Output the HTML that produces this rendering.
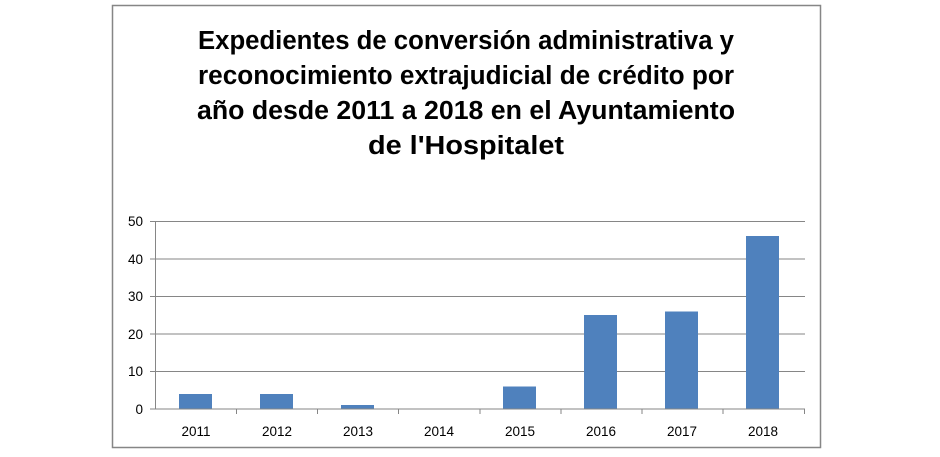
<!DOCTYPE html>
<html><head><meta charset="utf-8"><style>
html,body{margin:0;padding:0;background:#fff;}
svg{display:block;font-family:"Liberation Sans",sans-serif;}
</style></head><body>
<svg width="940" height="457" viewBox="0 0 940 457" xmlns="http://www.w3.org/2000/svg">
<rect x="112.5" y="5.5" width="708" height="442" fill="#fff" stroke="#868686" stroke-width="1.5"/>
<g font-weight="bold" font-size="25.5" fill="#000" text-anchor="middle">
<text x="466" y="49" textLength="536" lengthAdjust="spacingAndGlyphs">Expedientes de conversión administrativa y</text>
<text x="466" y="84" textLength="536" lengthAdjust="spacingAndGlyphs">reconocimiento extrajudicial de crédito por</text>
<text x="466" y="119" textLength="538" lengthAdjust="spacingAndGlyphs">año desde 2011 a 2018 en el Ayuntamiento</text>
<text x="466" y="154" textLength="196" lengthAdjust="spacingAndGlyphs">de l'Hospitalet</text>
</g>
<g stroke="#868686" stroke-width="1">
<line x1="150" y1="221.5" x2="805" y2="221.5"/>
<line x1="150" y1="259" x2="805" y2="259"/>
<line x1="150" y1="296.5" x2="805" y2="296.5"/>
<line x1="150" y1="334" x2="805" y2="334"/>
<line x1="150" y1="371.5" x2="805" y2="371.5"/>
<line x1="155.5" y1="221" x2="155.5" y2="409"/>
</g>
<g fill="#4f81bd">
<rect x="179" y="394" width="33" height="15"/>
<rect x="260" y="394" width="33" height="15"/>
<rect x="341" y="405" width="33" height="4"/>
<rect x="503" y="386.5" width="33" height="22.5"/>
<rect x="584" y="315" width="33" height="94"/>
<rect x="665" y="311.5" width="33" height="97.5"/>
<rect x="746" y="236" width="33" height="173"/>
</g>
<g stroke="#868686" stroke-width="1">
<line x1="150" y1="409" x2="805" y2="409"/>
<line x1="236.5" y1="409" x2="236.5" y2="414"/>
<line x1="317.5" y1="409" x2="317.5" y2="414"/>
<line x1="398.5" y1="409" x2="398.5" y2="414"/>
<line x1="480" y1="409" x2="480" y2="414"/>
<line x1="561" y1="409" x2="561" y2="414"/>
<line x1="642" y1="409" x2="642" y2="414"/>
<line x1="723" y1="409" x2="723" y2="414"/>
<line x1="804.5" y1="409" x2="804.5" y2="414"/>
</g>
<g font-size="13.5" fill="#000" text-anchor="end">
<text x="143" y="226">50</text>
<text x="143" y="264">40</text>
<text x="143" y="301">30</text>
<text x="143" y="339">20</text>
<text x="143" y="376">10</text>
<text x="143" y="414">0</text>
</g>
<g font-size="13.5" fill="#000" text-anchor="middle">
<text x="196" y="436">2011</text>
<text x="277" y="436">2012</text>
<text x="358" y="436">2013</text>
<text x="439" y="436">2014</text>
<text x="520" y="436">2015</text>
<text x="601" y="436">2016</text>
<text x="682" y="436">2017</text>
<text x="763" y="436">2018</text>
</g>
</svg>
</body></html>
